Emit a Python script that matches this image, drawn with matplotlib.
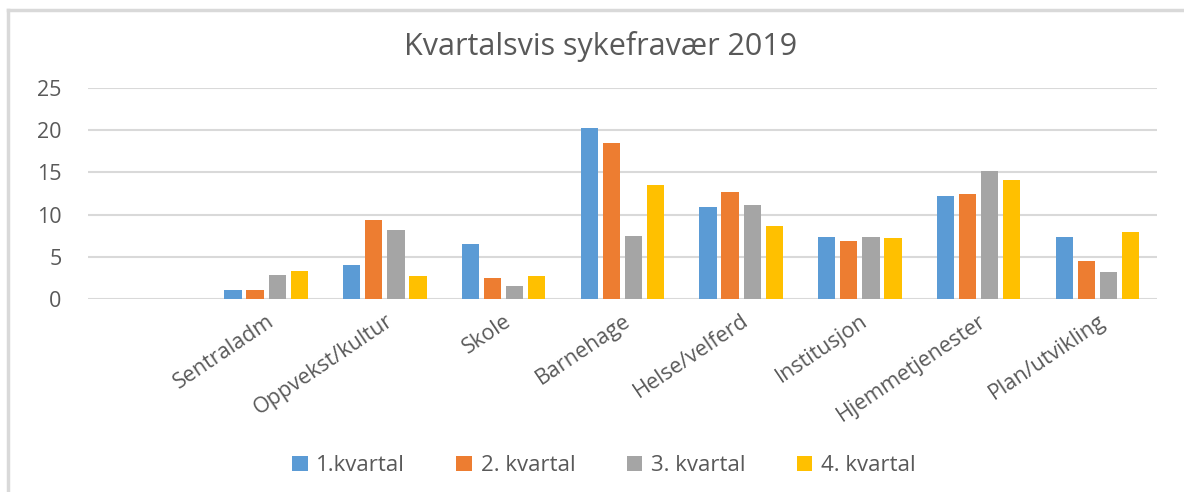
import matplotlib.pyplot as plt
import numpy as np
from matplotlib.lines import Line2D

plt.rcParams['font.family'] = ['Open Sans', 'DejaVu Sans']

# first category is empty in the original chart
categories = ["", "Sentraladm", "Oppvekst/kultur", "Skole", "Barnehage",
              "Helse/velferd", "Institusjon", "Hjemmetjenester", "Plan/utvikling"]
series_names = ["1.kvartal", "2. kvartal", "3. kvartal", "4. kvartal"]
q1 = [0, 1.1, 4.1, 6.5, 20.3, 10.9, 7.4, 12.2, 7.4]
q2 = [0, 1.1, 9.4, 2.5, 18.5, 12.7, 6.9, 12.4, 4.5]
q3 = [0, 2.8, 8.2, 1.6, 7.5, 11.1, 7.4, 15.2, 3.2]
q4 = [0, 3.3, 2.7, 2.7, 13.5, 8.7, 7.3, 14.1, 7.9]
colors = ["#5b9bd5", "#ed7d31", "#a5a5a5", "#ffc000"]
yticks = [0, 5, 10, 15, 20, 25]

txt = "#595959"

fig = plt.figure(figsize=(11.84, 4.92), dpi=100)
ax = fig.add_axes([0.0743, 0.392, 0.9027, 0.429])

x = np.arange(len(categories))
width = 0.145
step = 0.186
handles = []
for i, (vals, name) in enumerate(zip([q1, q2, q3, q4], series_names)):
    v = np.array(vals, dtype=float)
    v[0] = np.nan
    b = ax.bar(x + (i - 1.5) * step, v, width, color=colors[i], label=name, zorder=3)
    handles.append(b)

ax.set_xlim(-0.5, len(categories) - 0.5)
ax.set_ylim(0, 25)
ax.set_yticks(yticks)
ax.yaxis.grid(True, color="#d9d9d9", linewidth=1.5, zorder=0)
for s in ax.spines.values():
    s.set_visible(False)
ax.tick_params(axis='both', length=0, colors=txt, labelsize=15.5)
ax.tick_params(axis='y', pad=19)
ax.set_xticks(x)
ax.set_xticklabels(categories, rotation=34, ha='right', rotation_mode='anchor', color=txt)
ax.tick_params(axis='x', pad=8)

fig.text(0.507, 0.905, "Kvartalsvis sykefravær 2019", ha='center', va='center',
         fontsize=22, color=txt)

fig.legend(handles=handles, labels=series_names, loc='center', bbox_to_anchor=(0.51, 0.053),
           ncol=4, frameon=False, fontsize=16, labelcolor=txt, handlelength=0.7,
           handleheight=0.7, handletextpad=0.4, columnspacing=2.3)

# chart frame (left and top edges visible)
fig.add_artist(Line2D([8 / 1184, 8 / 1184], [0, 1 - 10 / 492], transform=fig.transFigure,
                      color="#d9d9d9", linewidth=2.5))
fig.add_artist(Line2D([8 / 1184, 1], [1 - 10 / 492, 1 - 10 / 492], transform=fig.transFigure,
                      color="#d9d9d9", linewidth=2.5))

fig.savefig("out.png", dpi=100)
